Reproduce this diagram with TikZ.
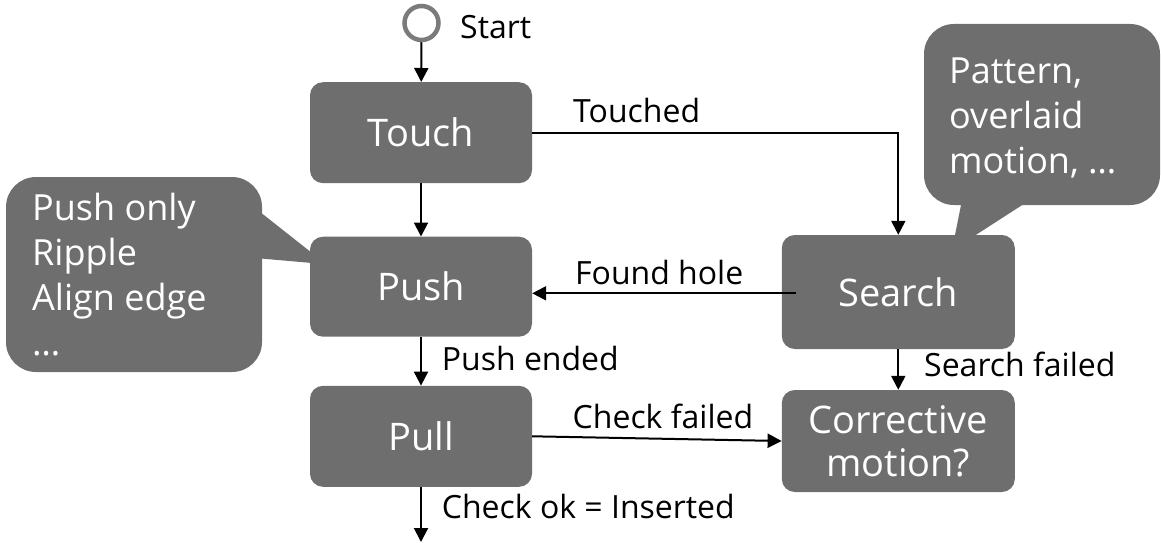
\documentclass[tikz,border=0pt]{standalone}
\usepackage{fontspec}
\setmainfont{Open Sans}
\usetikzlibrary{arrows.meta}
\definecolor{boxgray}{HTML}{6E6E6E}
\definecolor{ringgray}{HTML}{7B7B7B}
\begin{document}
\begin{tikzpicture}[x=1pt,y=-1pt,
  state/.style={fill=boxgray, rounded corners=13pt, text=white,
    font=\fontsize{38}{43}\selectfont, align=center, inner sep=0pt},
  flow/.style={line width=2pt, -{Triangle[width=14pt,length=14pt]}},
  lbl/.style={font=\fontsize{32}{38}\selectfont, anchor=base west, inner sep=0pt},
  callout/.style={fill=boxgray},
  ctext/.style={text=white, font=\fontsize{36}{45}\selectfont, align=left,
    anchor=north west, inner sep=0pt}]
\useasboundingbox (0,0) rectangle (1161,543);

% speech bubbles with their notes
\fill[callout, rounded corners=30pt] (6,177) rectangle (262,372);
\fill[callout] (255,208) -- (312,253) -- (312,263) -- (255,258) -- cycle;
\fill[callout, rounded corners=30pt] (924,24) rectangle (1160,205);
\fill[callout] (962,200) -- (1030,200) -- (968,240) -- (954,240) -- cycle;
\node[ctext] (notesL) at (32,192.5) {Push only\\Ripple\\Align edge\\…};
\node[ctext] (notesR) at (949,57.5) {Pattern,\\overlaid\\motion, …};

% initial state
\node[circle, draw=ringgray, line width=4.5pt, fill=white, minimum size=34pt,
  inner sep=0pt] (start) at (421.5,23) {};
\node[lbl] (startlbl) at (460,38.3) {Start};

% states
\node[state, minimum width=222pt, minimum height=101pt] (touch) at (421,132.7) {Touch};
\node[state, minimum width=222pt, minimum height=100pt] (push) at (421,286.7) {Push};
\node[state, minimum width=222pt, minimum height=101pt] (pull) at (421,436.3) {Pull};
\node[state, minimum width=233pt, minimum height=114pt] (search) at (898.3,292) {Search};
\node[state, minimum width=233pt, minimum height=102pt] (corr) at (898.3,441) {Corrective\\motion?};
\coordinate (exit) at (421,542);

% transitions
\draw[flow] (start) -- (touch);
\draw[flow] (touch) -- (push);
\draw[flow] (touch.east) -| (search.north);
\draw[flow] ([xshift=14pt,yshift=-1.3pt]search.west) -- ([yshift=-1.3pt]search.west -| push.east);
\draw[flow] (search) -- (corr);
\draw[flow] (push) -- (pull);
\draw[flow] (pull.east) -- (corr.west);
\draw[flow] (pull) -- (exit);

% transition labels
\node[lbl] (touchedlbl) at (573,122.7) {Touched};
\node[lbl] (foundlbl) at (575,284) {Found hole};
\node[lbl] (pushendlbl) at (441.7,370.7) {Push ended};
\node[lbl] (searchfaillbl) at (924,376.7) {Search failed};
\node[lbl] (checkfaillbl) at (572.5,428.3) {Check failed};
\node[lbl] (checkoklbl) at (441.7,518.3) {Check ok = Inserted};
\end{tikzpicture}
\end{document}
